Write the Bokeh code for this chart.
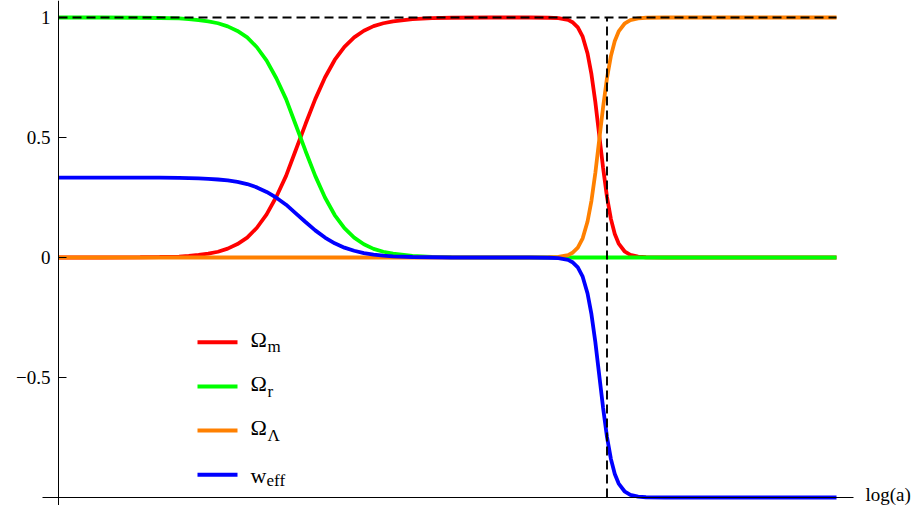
from bokeh.plotting import figure
from bokeh.models import (ColumnDataSource, Range1d, FixedTicker, Label,
                          BoxAnnotation)
from bokeh.embed import file_html
from bokeh.resources import INLINE

# ---------------- data ----------------
log_a = [-14.1, -13, -12, -11.5, -11, -10.75, -10.5, -10.25, -10, -9.75,
         -9.5, -9.25, -9, -8.75, -8.5, -8.25, -8, -7.75, -7.5, -7.25,
         -7, -6.75, -6.5, -6.25, -6, -5.75, -5.5, -5, -4.5, -4,
         -3, -2, -1.5, -1.25, -1, -0.875, -0.75, -0.625, -0.5, -0.4,
         -0.3, -0.2, -0.1, 0, 0.1, 0.2, 0.3, 0.45, 0.6, 0.8,
         1, 1.5, 3, 5.9]

omega_m = [0.0, 0.0, 0.001, 0.002, 0.004, 0.007, 0.011, 0.016, 0.024, 0.037,
           0.056, 0.083, 0.124, 0.18, 0.253, 0.34, 0.448, 0.556, 0.66, 0.75,
           0.823, 0.878, 0.917, 0.945, 0.964, 0.976, 0.984, 0.993, 0.997, 0.999,
           1.0, 1.0, 0.999, 0.997, 0.99, 0.979, 0.959, 0.92, 0.85, 0.764,
           0.648, 0.51, 0.373, 0.252, 0.161, 0.098, 0.058, 0.026, 0.011, 0.004,
           0.001, 0.0, 0.0, 0.0]

omega_r = [1.0, 1.0, 0.999, 0.998, 0.996, 0.993, 0.989, 0.984, 0.976, 0.963,
           0.944, 0.917, 0.876, 0.82, 0.747, 0.66, 0.552, 0.444, 0.34, 0.25,
           0.177, 0.122, 0.083, 0.055, 0.036, 0.024, 0.016, 0.007, 0.003, 0.001,
           0.0, 0.0, 0.0, 0.0, 0.0, 0.0, 0.0, 0.0, 0.0, 0.0,
           0.0, 0.0, 0.0, 0.0, 0.0, 0.0, 0.0, 0.0, 0.0, 0.0,
           0.0, 0.0, 0.0, 0.0]

omega_l = [0.0, 0.0, 0.0, 0.0, 0.0, 0.0, 0.0, 0.0, 0.0, 0.0,
           0.0, 0.0, 0.0, 0.0, 0.0, 0.0, 0.0, 0.0, 0.0, 0.0,
           0.0, 0.0, 0.0, 0.0, 0.0, 0.0, 0.0, 0.0, 0.0, 0.0,
           0.0, 0.0, 0.001, 0.003, 0.01, 0.021, 0.041, 0.08, 0.15, 0.236,
           0.352, 0.49, 0.627, 0.748, 0.839, 0.902, 0.942, 0.974, 0.989, 0.996,
           0.999, 1.0, 1.0, 1.0]

w_eff = [0.333, 0.333, 0.333, 0.333, 0.332, 0.331, 0.33, 0.328, 0.325, 0.321,
         0.315, 0.306, 0.292, 0.273, 0.249, 0.22, 0.184, 0.148, 0.113, 0.083,
         0.059, 0.041, 0.028, 0.018, 0.012, 0.008, 0.005, 0.002, 0.001, 0.0,
         0.0, 0.0, -0.001, -0.003, -0.01, -0.021, -0.041, -0.08, -0.15, -0.236,
         -0.352, -0.49, -0.627, -0.748, -0.839, -0.902, -0.942, -0.974, -0.989, -0.996,
         -0.999, -1.0, -1.0, -1.0]

y_ticks = [-0.5, 0.0, 0.5, 1.0]
y_tick_labels = ["\u22120.5", "0", "0.5", "1"]

omega_total = 1.0      # horizontal dashed asymptote
w_lambda = -1.0        # lower end of the plot (x axis position)
log_a_today = 0.0      # vertical dashed line

series_names = ["m", "r", "\u039b", "eff"]
series_colors = ["#FF0000", "#00FF00", "#FF8000", "#0000FF"]

# ---------------- canvas geometry helpers (canvas pixels -> data) ---------
def dx(px):
    return (px - 606.5) / 38.9

def dy(py):
    return (257.0 - py) / 240.0

W, H = 913, 505
p = figure(width=W, height=H,
           x_range=Range1d(dx(0), dx(W)),
           y_range=Range1d(dy(H), dy(0)),
           output_backend="svg", toolbar_location=None,
           min_border=0)
p.outline_line_color = None
p.xgrid.visible = False
p.ygrid.visible = False
p.background_fill_color = "white"
p.border_fill_color = "white"

SERIF = "Liberation Serif"

ya = p.yaxis[0]
ya.fixed_location = log_a[0]
ya.ticker = FixedTicker(ticks=y_ticks)
ya.major_label_overrides = {float(t): s for t, s in zip(y_ticks, y_tick_labels)}
ya.major_tick_in = 8
ya.major_tick_out = 0
ya.minor_tick_line_color = None
ya.major_label_standoff = 8
ya.major_label_text_font = SERIF
ya.major_label_text_font_size = "19px"
ya.major_label_text_color = "black"
ya.axis_line_color = "black"
ya.major_tick_line_color = "black"

xa = p.xaxis[0]
xa.fixed_location = w_lambda
xa.ticker = FixedTicker(ticks=[])
xa.bounds = (dx(42), dx(853))
xa.major_tick_line_color = None
xa.minor_tick_line_color = None
xa.major_label_text_font_size = "0px"
xa.axis_line_color = "black"

src = ColumnDataSource(dict(x=log_a, om=omega_m, orad=omega_r,
                            ol=omega_l, w=w_eff))
LW = 3.8
p.line("x", "om", source=src, line_color=series_colors[0], line_width=LW)
p.line("x", "orad", source=src, line_color=series_colors[1], line_width=LW)
p.line("x", "ol", source=src, line_color=series_colors[2], line_width=LW)
p.line("x", "w", source=src, line_color=series_colors[3], line_width=LW)

p.segment(x0=[log_a[0]], y0=[omega_total], x1=[log_a[-1]], y1=[omega_total],
          line_color="black", line_width=1.9, line_dash="9 5")
p.segment(x0=[log_a_today], y0=[w_lambda], x1=[log_a_today], y1=[omega_total],
          line_color="black", line_width=1.9, line_dash="9 5")

# ---------------- legend (hand-built to allow subscripts) -----------------
row_centers = [341.7, 386.0, 430.0, 474.3]
for name, col, c in zip(series_names, series_colors, row_centers):
    p.add_layout(BoxAnnotation(left=dx(197), right=dx(237),
                               top=dy(c - 2), bottom=dy(c + 2),
                               fill_color=col, fill_alpha=1.0,
                               line_color=None, level="overlay"))
    if name == "eff":
        main, mb, sx, sb = "w", c + 0.7, 266, c + 5.5
    else:
        main, mb, sx, sb = "\u03a9", c - 3, 267, c + 4.5
    p.add_layout(Label(x=dx(250), y=dy(mb), text=main, text_font=SERIF,
                       text_font_size="22px", text_color="black",
                       text_baseline="alphabetic", text_align="left"))
    p.add_layout(Label(x=dx(sx), y=dy(sb), text=name, text_font=SERIF,
                       text_font_size="17px", text_color="black",
                       text_baseline="alphabetic", text_align="left"))

p.add_layout(Label(x=dx(865), y=dy(494), text="log(a)", text_font=SERIF,
                   text_font_size="19px", text_color="black",
                   text_baseline="alphabetic", text_align="left"))

open("out.html", "w").write(file_html(p, INLINE))
